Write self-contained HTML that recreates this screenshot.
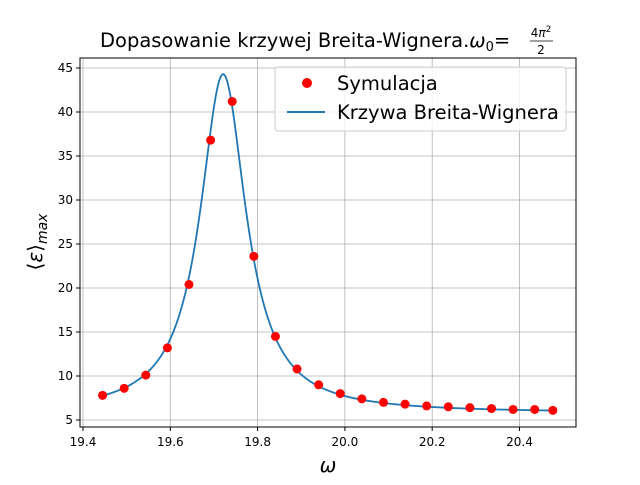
<!DOCTYPE html>
<html><head><meta charset="utf-8"><style>
body{margin:0;background:#fff;}
svg text{font-family:"DejaVu Sans","Liberation Sans",sans-serif;}
</style></head><body>
<svg id="chart" width="640" height="480">
<rect width="640" height="480" fill="#fff"/>
<g id="grid"></g>
<g id="curve"></g>
<g id="pts"></g>
<rect x="80" y="58" width="496" height="369" fill="none" stroke="#000" stroke-width="1"/>
<g id="ticks"></g>
<text x="100" y="47" font-size="19.5" text-anchor="start">Dopasowanie krzywej Breita-Wignera.<tspan font-style="italic">ω</tspan><tspan font-size="13" dy="4">0</tspan><tspan dy="-4">=</tspan></text>
<g>
<text x="541" y="37" font-size="12" text-anchor="middle"><tspan>4</tspan><tspan font-style="italic">π</tspan><tspan font-size="9" dy="-5">2</tspan></text>
<line x1="530" y1="41" x2="553" y2="41" stroke="#000" stroke-width="0.8"/>
<text x="541" y="54" font-size="12" text-anchor="middle">2</text>
</g>
<text x="328" y="472" font-size="20" font-style="italic" text-anchor="middle">ω</text>
<text transform="translate(42,242) rotate(-90)" font-size="20" text-anchor="middle">⟨<tspan font-style="italic">ε</tspan>⟩<tspan font-size="14" font-style="italic" dy="5">max</tspan></text>
<g>
<rect x="275" y="67" width="291" height="64" rx="3" fill="#fff" fill-opacity="0.8" stroke="#ccc"/>
<circle cx="307" cy="83" r="5" fill="#ff0000"/>
<text x="337" y="90" font-size="19.5">Symulacja</text>
<line x1="287" y1="112" x2="325" y2="112" stroke="#1f77b4" stroke-width="2"/>
<text x="337" y="119" font-size="19.5">Krzywa Breita-Wignera</text>
</g>
</svg>
<script>
const omegaValues=[19.446,19.4955,19.545,19.5945,19.644,19.6935,19.743,19.7925,19.842,19.8915,19.941,19.9905,20.04,20.0895,20.139,20.1885,20.238,20.2875,20.337,20.3865,20.436,20.4775];
const simValues=[7.8,8.6,10.1,13.2,20.4,36.8,41.2,23.6,14.5,10.8,9.0,8.0,7.4,7.0,6.8,6.6,6.5,6.4,6.3,6.2,6.2,6.1];
const fitParams=[19.721,38.5,0.064,5.8]; // center, height, half-width, baseline
const xTicks=[19.4,19.6,19.8,20.0,20.2,20.4];
const xTickLabels=["19.4","19.6","19.8","20.0","20.2","20.4"];
const yTicks=[5,10,15,20,25,30,35,40,45];
const yTickLabels=["5","10","15","20","25","30","35","40","45"];
const NS="http://www.w3.org/2000/svg";
const X=v=>83+(v-19.4)*436.5;
const Y=v=>420-(v-5)*8.8;
function mk(tag,attrs,parent){const e=document.createElementNS(NS,tag);for(const k in attrs)e.setAttribute(k,attrs[k]);parent.appendChild(e);return e;}
const grid=document.getElementById('grid'),ticks=document.getElementById('ticks');
xTicks.forEach((t,i)=>{
 const g=mk('line',{x1:X(t),x2:X(t),y1:58,y2:427,stroke:'#b0b0b0','stroke-width':0.8},grid);
 
 
 const tk=mk('line',{x1:X(t),x2:X(t),y1:427,y2:431,stroke:'#000'},ticks);
 
 
 const tx=mk('text',{x:X(t),y:446,'font-size':12,'text-anchor':'middle'},ticks);
 tx.textContent=xTickLabels[i];
 
 
});
yTicks.forEach((t,i)=>{
 const g=mk('line',{x1:80,x2:576,y1:Y(t),y2:Y(t),stroke:'#b0b0b0','stroke-width':0.8},grid);
 
 
 const tk=mk('line',{x1:76,x2:80,y1:Y(t),y2:Y(t),stroke:'#000'},ticks);
 
 
 const tx=mk('text',{x:73,y:Y(t)+4,'font-size':12,'text-anchor':'end'},ticks);
 tx.textContent=yTickLabels[i];
 
 
});
const [c,h,w,b]=fitParams;
const lo=omegaValues[0],hi=omegaValues[omegaValues.length-1];
let d='';
for(let i=0;i<=400;i++){const o=lo+(hi-lo)*i/400;const v=b+h/(1+((o-c)/w)**2);d+=(i?'L':'M')+X(o).toFixed(2)+','+Y(v).toFixed(2);}
const p=mk('path',{d:d,fill:'none',stroke:'#1f77b4','stroke-width':1.8},document.getElementById('curve'));


const pts=document.getElementById('pts');
omegaValues.forEach((o,i)=>{
 const ci=mk('circle',{cx:X(o)-0.5,cy:Y(simValues[i]),r:4.5,fill:'#ff0000'},pts);
 
 
});
</script>
</body></html>
